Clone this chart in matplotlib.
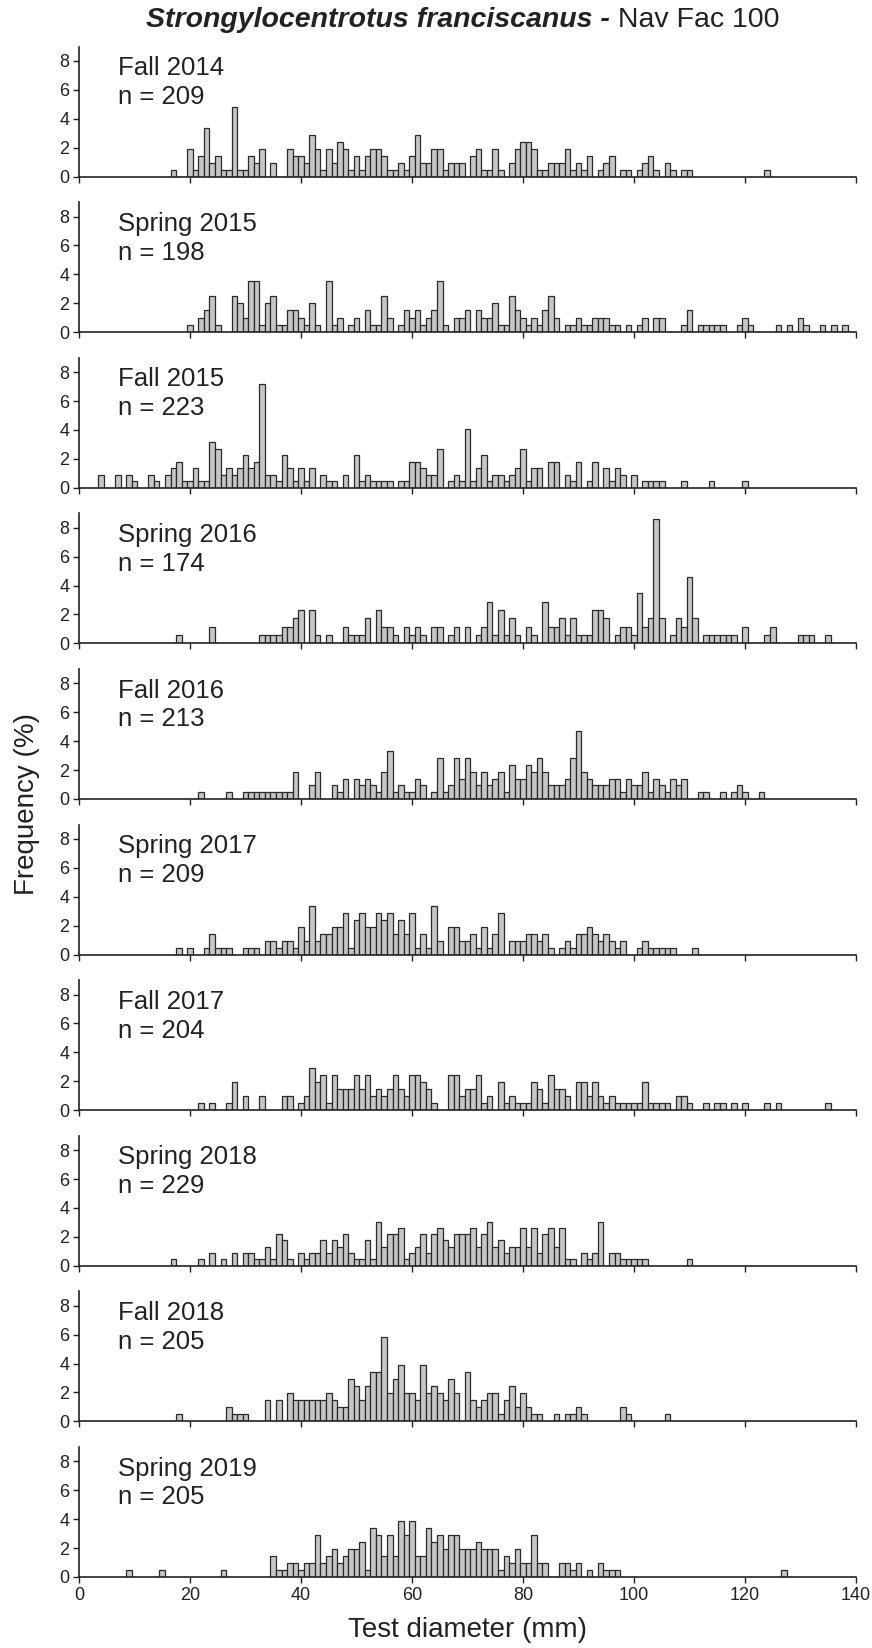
import numpy as np
import matplotlib
matplotlib.use("Agg")
import matplotlib.pyplot as plt

plt.rcParams['font.family'] = ['Liberation Sans', 'DejaVu Sans']

# ---------------- data (frequency %, one value per 1-mm size class) ----------------
seasons = ["Fall 2014", "Spring 2015", "Fall 2015", "Spring 2016", "Fall 2016",
           "Spring 2017", "Fall 2017", "Spring 2018", "Fall 2018", "Spring 2019"]
sample_sizes = [209, 198, 223, 174, 213, 209, 204, 229, 205, 205]

fall2014_start = 10
fall2014_pct = [
    0, 0, 0, 0, 0, 0, 0, 0.48, 0, 0,
    1.91, 0.48, 1.44, 3.35, 0.96, 1.44, 0.48, 0.48, 4.78, 0.48,
    0.48, 1.44, 0.96, 1.91, 0, 0.96, 0, 0, 1.91, 1.44,
    1.44, 0.96, 2.87, 1.91, 0.48, 1.91, 0.96, 2.39, 1.91, 0.48,
    1.44, 0.48, 1.44, 1.91, 1.91, 1.44, 0.48, 0.48, 0.96, 0.48,
    1.44, 2.87, 0.96, 0.96, 1.91, 1.91, 0.48, 0.96, 0.96, 0.96,
    0, 1.44, 1.91, 0.48, 0.48, 1.91, 0.48, 0, 0.96, 1.91,
    2.39, 2.39, 1.91, 0.48, 0.48, 0.96, 0.96, 0.96, 1.91, 0.48,
    0.96, 0.48, 1.44, 0, 0.48, 0.96, 1.44, 0, 0.48, 0.48,
    0, 0.48, 0.96, 1.44, 0.48, 0, 0.96, 0.48, 0, 0.48,
    0.48, 0, 0, 0, 0, 0, 0, 0, 0, 0,
    0, 0, 0, 0, 0.48,
]

spring2015_start = 20
spring2015_pct = [
    0.51, 0, 1.01, 1.52, 2.53, 0.51, 0, 0, 2.53, 2.02,
    1.01, 3.54, 3.54, 0.51, 2.02, 2.53, 0.51, 0.51, 1.52, 1.52,
    1.01, 0.51, 2.02, 0.51, 0, 3.54, 0.51, 1.01, 0, 0.51,
    1.01, 0, 1.52, 0.51, 0.51, 2.53, 1.01, 0, 0.51, 1.52,
    1.01, 1.52, 0.51, 1.01, 1.52, 3.54, 0.51, 0, 1.01, 1.01,
    1.52, 0, 1.52, 1.01, 1.01, 2.02, 0.51, 0.51, 2.53, 1.52,
    1.01, 0.51, 1.01, 0.51, 1.52, 2.53, 1.01, 0, 0.51, 0.51,
    1.01, 0.51, 0.51, 1.01, 1.01, 1.01, 0.51, 0.51, 0, 0.51,
    0, 0.51, 1.01, 0, 1.01, 1.01, 0, 0, 0, 0.51,
    1.52, 0, 0.51, 0.51, 0.51, 0.51, 0.51, 0, 0, 0.51,
    1.01, 0.51, 0, 0, 0, 0, 0.51, 0, 0.51, 0,
    1.01, 0.51, 0, 0, 0.51, 0, 0.51, 0, 0.51, 0,
]

fall2015_start = 0
fall2015_pct = [
    0, 0, 0, 0, 0.90, 0, 0, 0.90, 0, 0.90,
    0.45, 0, 0, 0.90, 0.45, 0, 0.90, 1.35, 1.79, 0.45,
    0.45, 1.35, 0.45, 0.45, 3.14, 2.69, 0.90, 1.35, 0.90, 1.35,
    2.24, 1.35, 1.79, 7.17, 0.90, 0.90, 0.45, 2.24, 1.35, 0.45,
    1.35, 0.45, 1.35, 0, 0.90, 0.45, 0.45, 0, 0.90, 0,
    2.24, 0.45, 0.90, 0.45, 0.45, 0.45, 0.45, 0, 0.45, 0.45,
    1.79, 1.79, 1.35, 0.90, 0.90, 2.69, 0, 0.45, 0.90, 0.45,
    4.04, 0.45, 1.35, 2.24, 0.45, 0.90, 0.90, 0.45, 0.90, 1.35,
    2.69, 0.45, 1.35, 1.35, 0, 1.79, 1.79, 0, 0.90, 0.45,
    1.79, 0, 0.45, 1.79, 0, 1.35, 0.45, 1.35, 0.90, 0,
    0.90, 0, 0.45, 0.45, 0.45, 0.45, 0, 0, 0, 0.45,
    0, 0, 0, 0, 0.45, 0, 0, 0, 0, 0,
    0.45,
]

spring2016_start = 10
spring2016_pct = [
    0, 0, 0, 0, 0, 0, 0, 0, 0.57, 0,
    0, 0, 0, 0, 1.15, 0, 0, 0, 0, 0,
    0, 0, 0, 0.57, 0.57, 0.57, 0.57, 1.15, 1.15, 1.72,
    2.30, 0, 2.30, 0.57, 0, 0.57, 0, 0, 1.15, 0.57,
    0.57, 0.57, 1.72, 0, 2.30, 1.15, 1.15, 0.57, 0, 1.15,
    0.57, 1.15, 0.57, 0, 1.15, 1.15, 0, 0.57, 1.15, 0,
    1.15, 0, 0.57, 1.15, 2.87, 0.57, 2.30, 0.57, 1.72, 0.57,
    0, 1.15, 0.57, 0, 2.87, 1.15, 1.15, 1.72, 0.57, 1.72,
    0.57, 0.57, 0.57, 2.30, 2.30, 1.72, 0, 0.57, 1.15, 1.15,
    0.57, 3.45, 1.15, 1.72, 8.62, 1.72, 0, 0.57, 1.72, 1.15,
    4.60, 1.72, 0, 0.57, 0.57, 0.57, 0.57, 0.57, 0.57, 0,
    1.15, 0, 0, 0, 0.57, 1.15, 0, 0, 0, 0,
    0.57, 0.57, 0.57, 0, 0, 0.57,
]

fall2016_start = 20
fall2016_pct = [
    0, 0, 0.47, 0, 0, 0, 0, 0.47, 0, 0,
    0.47, 0.47, 0.47, 0.47, 0.47, 0.47, 0.47, 0.47, 0.47, 1.88,
    0, 0, 0.94, 1.88, 0, 0, 0.94, 0.47, 1.41, 0,
    1.41, 0.94, 1.41, 0.94, 0.47, 1.88, 3.29, 0.47, 0.94, 0.47,
    0.47, 1.41, 0.94, 0, 0.47, 2.82, 0.47, 0.94, 2.82, 1.41,
    2.82, 1.88, 0.94, 1.88, 0.94, 1.41, 1.88, 0.47, 2.35, 1.41,
    1.41, 2.35, 1.88, 2.82, 1.88, 0.94, 0.94, 0.94, 1.41, 2.82,
    4.69, 1.88, 1.41, 0.94, 0.94, 0.94, 1.41, 1.41, 0.47, 1.41,
    0.94, 0.94, 1.88, 0.47, 1.41, 0.94, 0.47, 1.41, 0.94, 1.41,
    0, 0, 0.47, 0.47, 0, 0, 0.47, 0, 0.47, 0.94,
    0.47, 0, 0, 0.47,
]

spring2017_start = 10
spring2017_pct = [
    0, 0, 0, 0, 0, 0, 0, 0, 0.48, 0,
    0.48, 0, 0, 0.48, 1.44, 0.48, 0.48, 0.48, 0, 0,
    0.48, 0.48, 0.48, 0, 0.96, 0.96, 0.48, 0.96, 0.96, 0.48,
    1.91, 0.96, 3.35, 0.96, 1.44, 1.44, 1.91, 1.91, 2.87, 0.48,
    2.39, 2.87, 1.91, 1.91, 2.87, 2.39, 2.87, 1.44, 2.39, 1.44,
    2.87, 0.48, 1.44, 0.48, 3.35, 0.96, 0, 1.91, 1.91, 0.96,
    0.96, 1.44, 0.48, 1.91, 0.48, 1.44, 2.87, 0, 0.96, 0.96,
    0.96, 1.44, 1.44, 0.96, 1.44, 0.48, 0, 0.48, 0.96, 0.48,
    1.44, 1.44, 1.91, 1.44, 0.96, 1.44, 0.96, 0.48, 0.96, 0,
    0, 0.48, 0.96, 0.48, 0.48, 0.48, 0.48, 0.48, 0, 0,
    0, 0.48,
]

fall2017_start = 20
fall2017_pct = [
    0, 0, 0.49, 0, 0.49, 0, 0, 0.49, 1.96, 0,
    0.98, 0, 0, 0.98, 0, 0, 0, 0.98, 0.98, 0,
    0.49, 0.98, 2.94, 1.96, 2.45, 0.49, 2.45, 1.47, 1.47, 1.47,
    2.45, 1.47, 2.45, 0.98, 1.47, 0.98, 1.47, 2.45, 1.47, 0.98,
    2.45, 2.45, 1.96, 1.47, 0.49, 0, 0, 2.45, 2.45, 0.98,
    1.47, 1.47, 2.45, 0.49, 0.98, 0, 1.96, 0.49, 0.98, 0.49,
    0.49, 0.49, 1.96, 1.47, 0.49, 2.45, 1.47, 1.47, 0.98, 0,
    1.96, 1.96, 0.98, 1.96, 0.98, 0.49, 0.98, 0.49, 0.49, 0.49,
    0.49, 0.49, 1.96, 0.49, 0.49, 0.49, 0.49, 0, 0.98, 0.98,
    0.49, 0, 0, 0.49, 0, 0.49, 0.49, 0, 0.49, 0,
    0.49, 0, 0, 0, 0.49, 0, 0.49, 0, 0, 0,
    0, 0, 0, 0, 0, 0.49,
]

spring2018_start = 10
spring2018_pct = [
    0, 0, 0, 0, 0, 0, 0, 0.44, 0, 0,
    0, 0, 0.44, 0, 0.87, 0, 0.44, 0, 0.87, 0,
    0.87, 0.87, 0.44, 0.44, 1.31, 0.44, 2.18, 1.75, 0.44, 0,
    0.87, 0.44, 0.87, 0.87, 1.75, 0.87, 1.75, 1.31, 2.18, 0.87,
    0.44, 0.44, 1.75, 0.44, 3.06, 1.31, 2.18, 2.18, 2.62, 0.44,
    0.87, 1.31, 2.18, 0.87, 2.18, 2.62, 1.75, 1.31, 2.18, 2.18,
    2.18, 2.62, 1.31, 2.18, 3.06, 1.31, 1.75, 0.87, 1.31, 1.31,
    2.62, 1.31, 2.62, 0.87, 2.18, 2.62, 1.31, 2.62, 0.44, 0.44,
    0, 0.87, 0.44, 0.87, 3.06, 0, 0.87, 0.87, 0.44, 0.44,
    0.44, 0.44, 0.44, 0, 0, 0, 0, 0, 0, 0,
    0.44,
]

fall2018_start = 10
fall2018_pct = [
    0, 0, 0, 0, 0, 0, 0, 0, 0.49, 0,
    0, 0, 0, 0, 0, 0, 0, 0.98, 0.49, 0.49,
    0.49, 0, 0, 0, 1.46, 0, 1.46, 0, 1.95, 1.46,
    1.46, 1.46, 1.46, 1.46, 1.46, 1.95, 1.46, 0.98, 0.98, 2.93,
    2.44, 1.46, 2.44, 3.41, 3.41, 5.85, 1.95, 2.93, 3.90, 1.95,
    1.95, 1.46, 3.90, 1.95, 2.44, 1.95, 1.46, 2.93, 1.95, 0,
    3.41, 1.46, 0.98, 1.46, 1.95, 1.95, 0.49, 1.46, 2.44, 0.98,
    1.95, 0.98, 0.49, 0.49, 0, 0, 0.49, 0, 0.49, 0.49,
    0.98, 0.49, 0, 0, 0, 0, 0, 0, 0.98, 0.49,
    0, 0, 0, 0, 0, 0, 0.49,
]

spring2019_start = 0
spring2019_pct = [
    0, 0, 0, 0, 0, 0, 0, 0, 0, 0.49,
    0, 0, 0, 0, 0, 0.49, 0, 0, 0, 0,
    0, 0, 0, 0, 0, 0, 0.49, 0, 0, 0,
    0, 0, 0, 0, 0, 1.46, 0.49, 0.49, 0.98, 0.98,
    0.49, 0.98, 0.98, 2.93, 0.98, 1.46, 1.95, 0.98, 1.46, 1.95,
    1.95, 2.44, 0.49, 3.41, 2.93, 1.46, 2.93, 1.46, 3.90, 2.93,
    3.90, 1.46, 1.46, 3.41, 2.44, 2.93, 1.95, 2.93, 2.93, 1.95,
    1.95, 1.95, 2.44, 1.95, 1.95, 1.95, 0.49, 1.46, 0.98, 1.95,
    0.98, 0.98, 2.93, 0.98, 0.98, 0, 0, 0.98, 0.98, 0.49,
    0.98, 0, 0.49, 0, 0.98, 0.49, 0.49, 0.49, 0, 0,
    0, 0, 0, 0, 0, 0, 0, 0, 0, 0,
    0, 0, 0, 0, 0, 0, 0, 0, 0, 0,
    0, 0, 0, 0, 0, 0, 0, 0.49,
]

panel_data = [
    (fall2014_start, fall2014_pct), (spring2015_start, spring2015_pct),
    (fall2015_start, fall2015_pct), (spring2016_start, spring2016_pct),
    (fall2016_start, fall2016_pct), (spring2017_start, spring2017_pct),
    (fall2017_start, fall2017_pct), (spring2018_start, spring2018_pct),
    (fall2018_start, fall2018_pct), (spring2019_start, spring2019_pct),
]

x_ticks = [0, 20, 40, 60, 80, 100, 120, 140]
y_ticks = [0, 2, 4, 6, 8]

# ---------------- layout ----------------
W, H = 872, 1648
fig = plt.figure(figsize=(W / 100, H / 100), dpi=100)
left_px, right_px = 79, 856
first_base, step, ax_h = 176.5, 155.6, 130.0

axes = []
for i, (start, pct) in enumerate(panel_data):
    base = first_base + i * step
    ax = fig.add_axes([left_px / W, 1 - base / H, (right_px - left_px) / W, ax_h / H])
    axes.append(ax)
    x = np.arange(start, start + len(pct))
    y = np.asarray(pct, dtype=float)
    m = y > 0
    ax.bar(x[m], y[m], width=1.0, color='#c6c6c6', edgecolor='#2a2a2a',
           linewidth=0.9, zorder=2)
    ax.set_xlim(0, 140)
    ax.set_ylim(0, 9)
    ax.set_xticks(x_ticks)
    ax.set_yticks(y_ticks)
    for s in ('top', 'right'):
        ax.spines[s].set_visible(False)
    for s in ('left', 'bottom'):
        ax.spines[s].set_linewidth(1.2)
        ax.spines[s].set_color('#222222')
        ax.spines[s].set_zorder(3)
    ax.tick_params(direction='out', length=4, width=1.0, color='#222222',
                   labelsize=13, labelcolor='#222222', pad=3)
    if i < len(panel_data) - 1:
        ax.set_xticklabels([])
    ax.text(7, 7.5, seasons[i], fontsize=18.5, va='center', ha='left', color='#222222')
    ax.text(7, 5.5, f"n = {sample_sizes[i]}", fontsize=18.5, va='center', ha='left',
            color='#222222')

# title: bold-italic species name + plain site name
split_x = 610 / W
ty = 1 - 20 / H
fig.text(split_x, ty, "Strongylocentrotus franciscanus -", fontsize=20.5,
         fontweight='bold', fontstyle='italic', ha='right', va='center', color='#222222')
fig.text(split_x, ty, " Nav Fac 100", fontsize=20.5, ha='left', va='center',
         color='#222222')

fig.text(27 / W, 1 - 804 / H, "Frequency (%)", rotation=90, fontsize=20,
         ha='center', va='center', color='#222222')
fig.text(467 / W, 1 - 1630 / H, "Test diameter (mm)", fontsize=20,
         ha='center', va='center', color='#222222')

fig.savefig("out.png", dpi=100, facecolor='white')
